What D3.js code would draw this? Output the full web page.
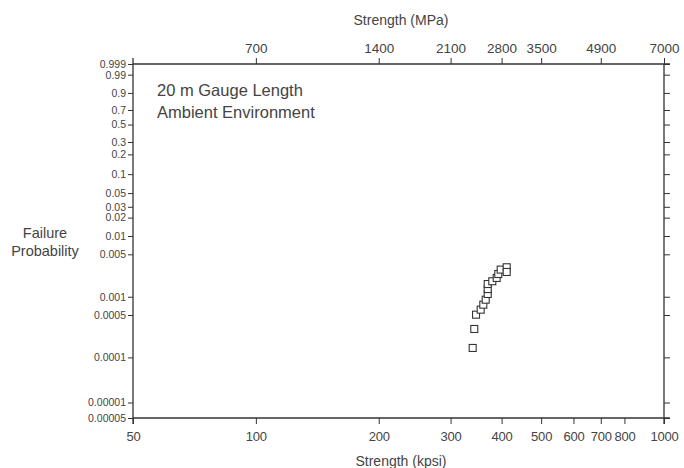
<!DOCTYPE html>
<html>
<head>
<meta charset="utf-8">
<script src="https://cdn.jsdelivr.net/npm/d3@7"></script>
<style>
  body { margin: 0; background: #fff; }
  text { font-family: "Liberation Sans", Arial, sans-serif; fill: #444; }
</style>
</head>
<body>
<div id="chart"></div>
<script>
// Data
var strengthKpsi = [339.8, 342.9, 346.3, 355.5, 360.8, 365.7, 369.9, 369.9, 369.9, 379.6, 389.1, 392.6, 398.0, 411.7, 411.7];
var failureProb = [0.000143, 0.000294, 0.000506, 0.000612, 0.00074, 0.000894, 0.00111, 0.00134, 0.00162, 0.0018, 0.00204, 0.00237, 0.0028, 0.00306, 0.00256];

var kpsiTicks = [50, 100, 200, 300, 400, 500, 600, 700, 800, 1000];
var mpaTicks = [700, 1400, 2100, 2800, 3500, 4900, 7000];
var probTicks = [0.999, 0.99, 0.9, 0.7, 0.5, 0.3, 0.2, 0.1, 0.05, 0.03, 0.02, 0.01, 0.005, 0.001, 0.0005, 0.0001, 0.000018, 0.00001];
var probLabels = ["0.999", "0.99", "0.9", "0.7", "0.5", "0.3", "0.2", "0.1", "0.05", "0.03", "0.02", "0.01", "0.005", "0.001", "0.0005", "0.0001", "0.00001", "0.00005"];

var W = 684, H = 468;
var plotLeft = 133, plotRight = 664, plotTop = 64, plotBottom = 418;

// Weibull transform
function weib(p) { return Math.log(-Math.log(1 - p)); }

var svg = d3.select('#chart').append('svg')
    .attr('width', W)
    .attr('height', H);

var x = d3.scaleLog().domain([50, 1000]).range([plotLeft, plotRight]);
var xTop = d3.scaleLog().domain([350, 7000]).range([plotLeft, plotRight]); // 7 MPa per kpsi
var y = d3.scaleLinear().domain([weib(0.00001), weib(0.999)]).range([plotBottom, plotTop]);

var lineColor = '#333';

// Frame lines
svg.append('line').attr('x1', plotLeft).attr('x2', plotRight + 6).attr('y1', plotBottom).attr('y2', plotBottom)
    .attr('stroke', lineColor).attr('stroke-width', 1.3);
svg.append('line').attr('x1', plotLeft).attr('x2', plotRight + 6).attr('y1', plotTop).attr('y2', plotTop)
    .attr('stroke', lineColor).attr('stroke-width', 1.3);
svg.append('line').attr('x1', plotLeft).attr('x2', plotLeft).attr('y1', plotTop - 6).attr('y2', plotBottom + 6)
    .attr('stroke', lineColor).attr('stroke-width', 1.3);
svg.append('line').attr('x1', plotRight).attr('x2', plotRight).attr('y1', plotTop).attr('y2', plotBottom + 6)
    .attr('stroke', lineColor).attr('stroke-width', 1.3);

// Bottom axis
var gb = svg.append('g').attr('transform', 'translate(0,' + plotBottom + ')')
    .call(d3.axisBottom(x).tickValues(kpsiTicks).tickFormat(d3.format('d')).tickSize(6).tickPadding(8));
gb.select('.domain').remove();
gb.selectAll('line').attr('stroke', lineColor);
gb.selectAll('text').style('font-size', '13px').style('letter-spacing', '-0.2px').attr('fill', '#444');

// Top axis
var gt = svg.append('g').attr('transform', 'translate(0,' + plotTop + ')')
    .call(d3.axisTop(xTop).tickValues(mpaTicks).tickFormat(d3.format('d')).tickSize(6).tickPadding(5));
gt.select('.domain').remove();
gt.selectAll('line').attr('stroke', lineColor);
gt.selectAll('text').style('font-size', '13.5px').attr('fill', '#444');

// Left axis
var gl = svg.append('g').attr('transform', 'translate(' + plotLeft + ',0)')
    .call(d3.axisLeft(y).tickValues(probTicks.map(weib))
      .tickFormat(function(d, i) { return probLabels[i]; }).tickSize(5).tickPadding(2));
gl.select('.domain').remove();
gl.selectAll('line').attr('stroke', lineColor);
gl.selectAll('text').style('font-size', '10.5px').attr('fill', '#555');

// Right axis ticks
var gr = svg.append('g').attr('transform', 'translate(' + plotRight + ',0)')
    .call(d3.axisRight(y).tickValues(probTicks.map(weib)).tickFormat('').tickSize(6));
gr.select('.domain').remove();
gr.selectAll('line').attr('stroke', lineColor);

// Axis titles
svg.append('text').attr('x', 401).attr('y', 25).attr('text-anchor', 'middle')
    .style('font-size', '14px').text('Strength (MPa)');
svg.append('text').attr('x', 401).attr('y', 466).attr('text-anchor', 'middle')
    .style('font-size', '14px').text('Strength (kpsi)');
svg.append('text').attr('x', 45).attr('y', 238).attr('text-anchor', 'middle')
    .style('font-size', '14.5px').text('Failure');
svg.append('text').attr('x', 45).attr('y', 256).attr('text-anchor', 'middle')
    .style('font-size', '14.5px').text('Probability');

// Annotation
svg.append('text').attr('x', 157).attr('y', 96)
    .style('font-size', '16.5px').text('20 m Gauge Length');
svg.append('text').attr('x', 157).attr('y', 118)
    .style('font-size', '16.5px').text('Ambient Environment');

// Data squares
var s = 7;
svg.append('g').selectAll('rect')
    .data(strengthKpsi)
  .enter().append('rect')
    .attr('x', function(d) { return x(d) - s / 2; })
    .attr('y', function(d, i) { return y(weib(failureProb[i])) - s / 2; })
    .attr('width', s)
    .attr('height', s)
    .attr('fill', '#fff')
    .attr('stroke', '#333')
    .attr('stroke-width', 1.1);
</script>
</body>
</html>
